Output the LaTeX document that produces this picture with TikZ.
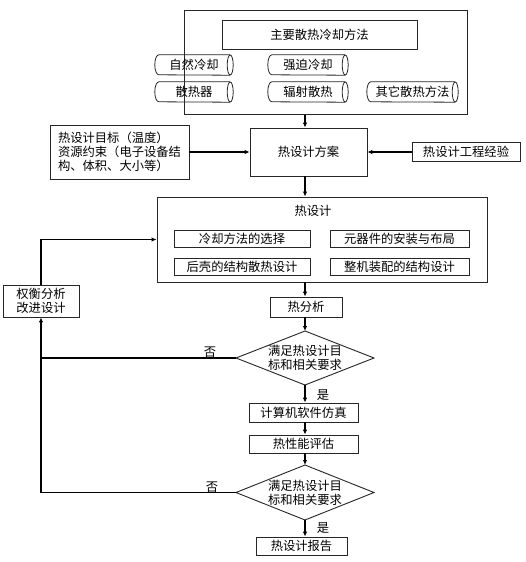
\documentclass[tikz,border=0pt]{standalone}
\usepackage{fontspec}
\setmainfont{Noto Sans CJK SC}
\usetikzlibrary{arrows.meta,calc}
\newcommand\myfs{\fontsize{12.3}{14}\selectfont}
\begin{document}
\begin{tikzpicture}[x=1pt,y=-1pt,
  box/.style={draw=black!85, line width=0.8pt, inner sep=0pt, font=\myfs, align=center},
  sz/.style 2 args={minimum width=#1pt, minimum height=#2pt},
  cyl/.style={inner sep=0pt, font=\myfs},
  cylline/.style={draw=black!85, line width=0.8pt},
  arr/.style={line width=1.2pt, -{Latex[length=5pt,width=4.5pt]}},
  ln/.style={line width=1.2pt},
  dia/.style={draw=black!85, line width=0.9pt},
  txt/.style={inner sep=0pt, font=\myfs, align=center}]
\useasboundingbox[fill=white] (0,0) rectangle (525,562);
\coordinate (sp) at (305,0);
% top block
\node[box, line width=1pt, sz={283}{104}] (outer) at (325.5,62) {};
\node[box, sz={195}{29}] (title) at (319.5,34.5) {主要散热冷却方法};
\node[cyl, sz={78}{20}] (c1) at (194,65) {自然冷却};
\node[cyl, sz={80}{20}] (c2) at (308,65) {强迫冷却};
\node[cyl, sz={78}{20}] (c3) at (194,92) {散热器};
\node[cyl, sz={80}{20}] (c4) at (308,92) {辐射散热};
\node[cyl, sz={91}{20}] (c5) at (412.5,92) {其它散热方法};
\foreach \n in {c1,c2,c3,c4,c5}{
  \draw[cylline] ([xshift=4pt]\n.north west) arc[start angle=90, end angle=270, x radius=4pt, y radius=10pt] -- ([xshift=-3pt]\n.south east) ([xshift=-3pt]\n.north east) -- ([xshift=4pt]\n.north west);
  \draw[cylline] ([xshift=-3pt]\n.east) ellipse[x radius=3pt, y radius=10pt];
}
% plan row
\node[box, sz={117}{48}] (plan) at (308.5,152) {热设计方案};
\node[box, sz={139}{54}, align=left] (L) at (119.5,152) {热设计目标（温度）\\资源约束（电子设备结\\构、体积、大小等）};
\node[box, sz={108}{19}] (exp) at (466,152) {热设计工程经验};
% design block
\node[box, line width=0.9pt, sz={330}{85}] (des) at (322,239.5) {};
\node[txt] (dtitle) at (313,211) {热设计};
\node[box, sz={136}{17}] (i1) at (242,238.5) {冷却方法的选择};
\node[box, sz={139}{17}] (i2) at (399.5,238.5) {元器件的安装与布局};
\node[box, sz={136}{17}] (i3) at (242,266.5) {后壳的结构散热设计};
\node[box, sz={139}{17}] (i4) at (399.5,266.5) {整机装配的结构设计};
% feedback box
\node[box, sz={76}{32}] (q) at (41,301) {权衡分析\\改进设计};
% analysis chain
\node[box, sz={72}{20}] (ana) at (306,307) {热分析};
\draw[dia] (305,331) coordinate (d1n) -- (374,358) coordinate (d1e) -- (305,385) coordinate (d1s) -- (236,358) coordinate (d1w) -- cycle;
\node[txt] (d1) at (305,358) {满足热设计目\\标和相关要求};
\node[box, sz={109}{19}] (sim) at (303.5,412.5) {计算机软件仿真};
\node[box, sz={109}{18}] (eva) at (303.5,444) {热性能评估};
\draw[dia] (305,465) coordinate (d2n) -- (374,492.5) coordinate (d2e) -- (305,520) coordinate (d2s) -- (236,492.5) coordinate (d2w) -- cycle;
\node[txt] (d2) at (305,492.5) {满足热设计目\\标和相关要求};
\node[box, sz={91}{18}] (rep) at (301.5,546) {热设计报告};
\node[txt] (no1) at (210,352) {否};
\node[txt] (no2) at (212,487) {否};
\node[txt] (yes1) at (323,395) {是};
\node[txt] (yes2) at (323,528) {是};
% connectors
\draw[arr] (outer.south -| sp) -- (plan.north -| sp);
\draw[arr] (L.east) -- (L.east -| plan.west);
\draw[arr] (exp.west) -- (exp.west -| plan.east);
\draw[arr] (plan.south -| sp) -- (des.north -| sp);
\draw[arr] (q.north) |- (des.west);
\draw[arr] (des.south -| sp) -- (ana.north -| sp);
\draw[arr] (ana.south -| sp) -- (d1n);
\draw[arr] (d1s) -- (sim.north -| sp);
\draw[arr] (sim.south -| sp) -- (eva.north -| sp);
\draw[arr] (eva.south -| sp) -- (d2n);
\draw[arr] (d2s) -- (rep.north -| sp);
\draw[ln] (d1w) -- (d1w -| q.south);
\draw[arr] (d2w) -| (q.south);
\end{tikzpicture}
\end{document}
